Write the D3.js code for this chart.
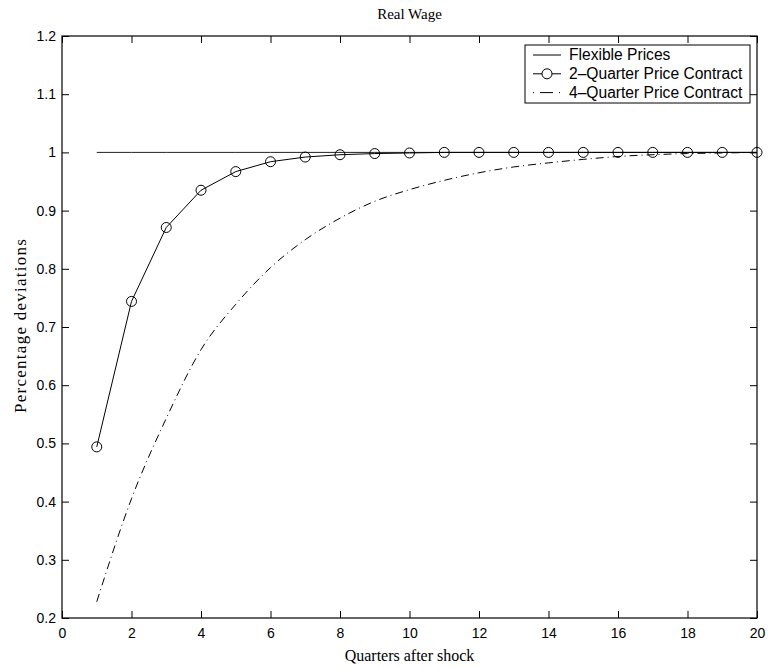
<!DOCTYPE html>
<html>
<head>
<meta charset="utf-8">
<script src="https://cdn.jsdelivr.net/npm/d3@7"></script>
<style>
  html, body { margin: 0; padding: 0; background: #fff; }
  svg text { fill: #000; }
</style>
</head>
<body>
<div id="chart"></div>
<script>
// data
const quarters = d3.range(1, 21);
const flexible = quarters.map(() => 1);
const twoQuarter = [0.494, 0.744, 0.871, 0.935, 0.967, 0.984, 0.992, 0.996, 0.998, 0.999,
                    1.0, 1.0, 1.0, 1.0, 1.0, 1.0, 1.0, 1.0, 1.0, 1.0];
const fourQuarter = [0.228, 0.405, 0.543, 0.661, 0.739, 0.802, 0.850, 0.887, 0.916, 0.936,
                     0.952, 0.965, 0.975, 0.982, 0.988, 0.993, 0.996, 0.998, 0.999, 1.0];
const xTicks = [0, 2, 4, 6, 8, 10, 12, 14, 16, 18, 20];
const yTicks = [0.2, 0.3, 0.4, 0.5, 0.6, 0.7, 0.8, 0.9, 1, 1.1, 1.2];
const legendLabels = ['Flexible Prices', '2\u2013Quarter Price Contract', '4\u2013Quarter Price Contract'];

const width = 769, height = 669;
const margin = { top: 36, right: 12, bottom: 51, left: 62 };

const svg = d3.select('#chart').append('svg')
  .attr('width', width)
  .attr('height', height);

const x = d3.scaleLinear().domain([0, 20]).range([margin.left, width - margin.right]);
const y = d3.scaleLinear().domain([0.2, 1.2]).range([height - margin.bottom, margin.top]);

const sansFont = 'Liberation Sans, Arial, Helvetica, sans-serif';
const serifFont = 'Liberation Serif, Times New Roman, serif';

// ---------------------------------------------------------------- AXES (box, ticks inward)
const tickLen = 7;
function styleAxis(g, showLabels) {
  g.select('.domain').remove();
  g.selectAll('.tick line').attr('stroke', '#000').attr('stroke-width', 1);
  g.selectAll('text')
    .attr('font-family', sansFont)
    .attr('font-size', 14)
    .style('display', showLabels ? null : 'none');
}

svg.append('g')
  .attr('transform', `translate(0,${y(0.2)})`)
  .call(d3.axisBottom(x).tickValues(xTicks).tickSizeInner(-tickLen).tickSizeOuter(0).tickPadding(10).tickFormat(d3.format('d')))
  .call(g => styleAxis(g, true));

svg.append('g')
  .attr('transform', `translate(0,${y(1.2)})`)
  .call(d3.axisTop(x).tickValues(xTicks).tickSizeInner(-tickLen).tickSizeOuter(0))
  .call(g => styleAxis(g, false));

svg.append('g')
  .attr('transform', `translate(${x(0)},0)`)
  .call(d3.axisLeft(y).tickValues(yTicks).tickSizeInner(-tickLen).tickSizeOuter(0).tickPadding(6).tickFormat(d => d3.format('')(+d.toFixed(1))))
  .call(g => styleAxis(g, true));

svg.append('g')
  .attr('transform', `translate(${x(20)},0)`)
  .call(d3.axisRight(y).tickValues(yTicks).tickSizeInner(-tickLen).tickSizeOuter(0))
  .call(g => styleAxis(g, false));

svg.append('rect')
  .attr('x', x(0)).attr('y', y(1.2))
  .attr('width', x(20) - x(0)).attr('height', y(0.2) - y(1.2))
  .attr('fill', 'none').attr('stroke', '#000').attr('stroke-width', 1.2);

// ---------------------------------------------------------------- LINES
const line = d3.line().x((d, i) => x(quarters[i])).y(d => y(d));
const smooth = d3.line().x((d, i) => x(quarters[i])).y(d => y(d)).curve(d3.curveMonotoneX);

svg.append('path').datum(flexible)
  .attr('d', line).attr('fill', 'none').attr('stroke', '#222').attr('stroke-width', 1);

svg.append('path').datum(fourQuarter)
  .attr('d', smooth).attr('fill', 'none').attr('stroke', '#000').attr('stroke-width', 1)
  .attr('stroke-dasharray', '8,4,1,4');

svg.append('path').datum(twoQuarter)
  .attr('d', line).attr('fill', 'none').attr('stroke', '#000').attr('stroke-width', 1);

svg.append('g').selectAll('circle')
  .data(twoQuarter)
  .join('circle')
  .attr('cx', (d, i) => x(quarters[i]))
  .attr('cy', d => y(d))
  .attr('r', 5)
  .attr('fill', 'none')
  .attr('stroke', '#000')
  .attr('stroke-width', 1);

// ---------------------------------------------------------------- TEXT
svg.append('text')
  .attr('x', (x(0) + x(20)) / 2).attr('y', 19)
  .attr('text-anchor', 'middle')
  .attr('font-family', serifFont).attr('font-size', 15)
  .text('Real Wage');

svg.append('text')
  .attr('x', (x(0) + x(20)) / 2).attr('y', 661)
  .attr('text-anchor', 'middle')
  .attr('font-family', serifFont).attr('font-size', 16)
  .text('Quarters after shock');

svg.append('text')
  .attr('transform', `translate(26,326) rotate(-90)`)
  .attr('text-anchor', 'middle')
  .attr('font-family', serifFont).attr('font-size', 17)
  .attr('textLength', 174).attr('lengthAdjust', 'spacing')
  .text('Percentage deviations');

// ---------------------------------------------------------------- LEGEND
const legend = svg.append('g').attr('transform', 'translate(525,45)');
legend.append('rect')
  .attr('width', 225).attr('height', 58)
  .attr('fill', '#fff').attr('stroke', '#000').attr('stroke-width', 1);

const rows = legend.selectAll('g.row')
  .data(legendLabels)
  .join('g')
  .attr('class', 'row')
  .attr('transform', (d, i) => `translate(0,${10 + i * 18.8})`);

rows.append('line')
  .attr('x1', 8).attr('x2', 36)
  .attr('stroke', '#000').attr('stroke-width', 1)
  .attr('stroke-dasharray', (d, i) => i === 2 ? '1,6,13,6,1' : null);

rows.filter((d, i) => i === 1).append('circle')
  .attr('cx', 22).attr('r', 5)
  .attr('fill', '#fff').attr('stroke', '#000');

rows.append('text')
  .attr('x', 44).attr('dy', '0.35em')
  .attr('font-family', sansFont).attr('font-size', 15.6)
  .text(d => d);
</script>
</body>
</html>
